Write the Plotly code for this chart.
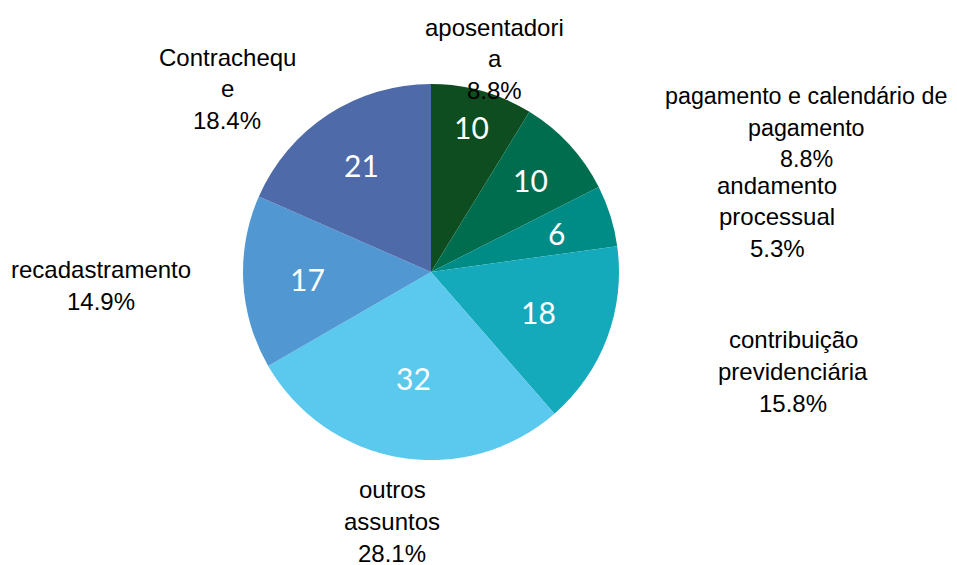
import math
import plotly.graph_objects as go

categories = ["aposentadoria", "pagamento e calendário de pagamento", "andamento processual",
              "contribuição previdenciária", "outros assuntos", "recadastramento", "Contracheque"]
values = [10, 10, 6, 18, 32, 17, 21]
# wrapped label lines as displayed
label_lines = [["aposentadori", "a"], ["pagamento e calendário de", "pagamento"],
               ["andamento", "processual"], ["contribuição", "previdenciária"],
               ["outros", "assuntos"], ["recadastramento"], ["Contrachequ", "e"]]
colors = ["#0e4d1f", "#006e4e", "#008c86", "#15a9bc", "#5bc8ee", "#5198d2", "#4f6aa9"]

OFF = 8  # page body offset
W, H = 957 - OFF, 565 - OFF
# label block positions (page pixel centre x, first line centre y)
label_pos = [(495, 27), (806, 96), (777, 185), (793, 340), (392, 490), (101, 270), (227, 57)]
label_size = [24, 23.3, 24, 24, 24, 24, 24]
# radial position of the value text inside each slice (fraction of radius)
value_rfrac = [0.80, 0.72, 0.70, 0.61, 0.57, 0.66, 0.68]
LINE = 31.5

cx, cy, r = 431, 272, 188


def px2paper(px, py):
    return (px - OFF) / W, 1 - (py - OFF) / H


x0, y0 = px2paper(cx - r, cy + r)
x1, y1 = px2paper(cx + r, cy - r)

fig = go.Figure(go.Pie(
    labels=categories, values=values, sort=False, direction="clockwise", rotation=0,
    marker=dict(colors=colors, line=dict(width=0)),
    textinfo="none",
    domain=dict(x=[x0, x1], y=[y0, y1]),
    showlegend=False, hoverinfo="label+value+percent",
))

total = sum(values)
anns = []
cum = 0
for lines, v, (px, py), rf, fs in zip(label_lines, values, label_pos, value_rfrac, label_size):
    # value inside slice at mid angle (clockwise from 12 o'clock)
    mid = (cum + v / 2) / total * 2 * math.pi
    cum += v
    vx = cx + rf * r * math.sin(mid)
    vy = cy - rf * r * math.cos(mid)
    x, y = px2paper(vx, vy)
    anns.append(dict(x=x, y=y, xref="paper", yref="paper", text=str(v), showarrow=False,
                     xanchor="center", yanchor="middle",
                     font=dict(family="Lato", size=30, color="white")))
    all_lines = lines + [f"{100 * v / total:.1f}%"]
    for i, t in enumerate(all_lines):
        x, y = px2paper(px, py + i * LINE)
        anns.append(dict(x=x, y=y, xref="paper", yref="paper",
                         text=t, showarrow=False, xanchor="center", yanchor="middle",
                         font=dict(family="Liberation Sans", size=fs, color="black")))

fig.update_layout(width=W, height=H, margin=dict(l=0, r=0, t=0, b=0),
                  paper_bgcolor="white", plot_bgcolor="white", annotations=anns)
fig.write_html("out.html")
